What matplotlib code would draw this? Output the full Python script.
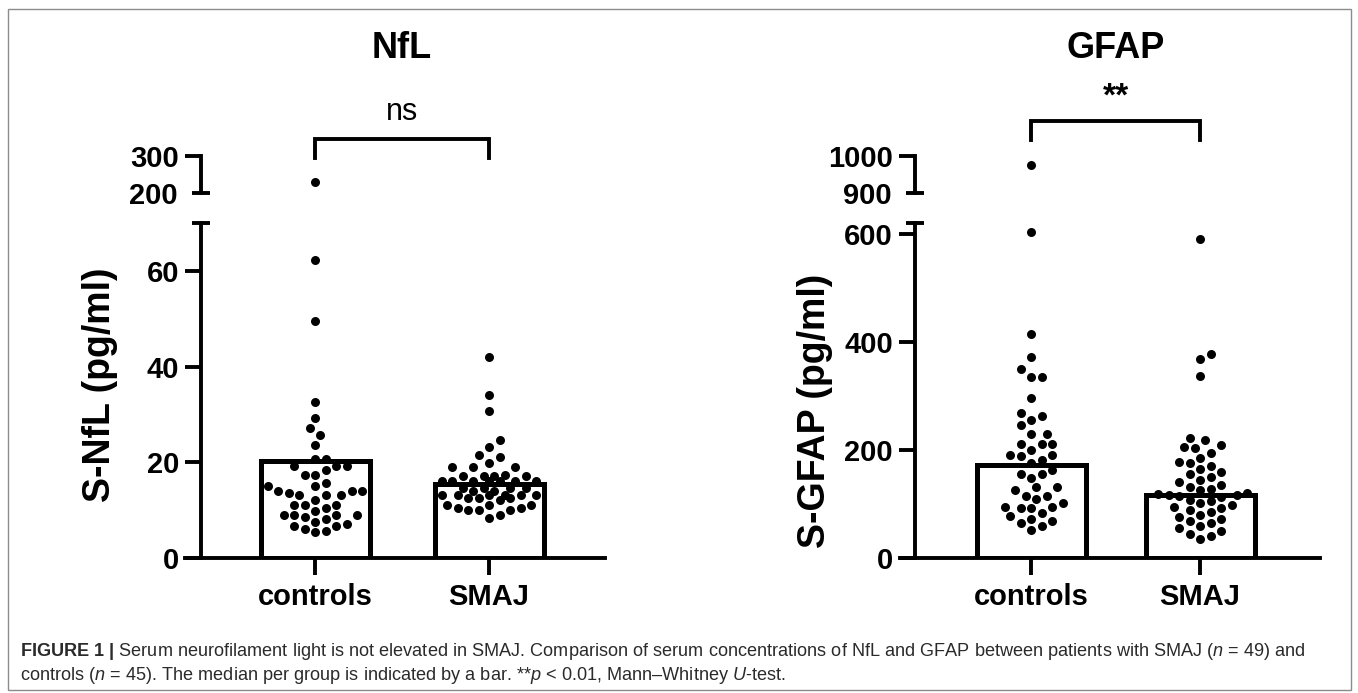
"""Recreate the serum NfL / GFAP scatter-dot figure with broken y axes."""

import matplotlib.pyplot as plt
import matplotlib.transforms as mtransforms
import numpy as np
from matplotlib.patches import Rectangle
from matplotlib.ticker import FixedLocator, NullFormatter

plt.rcParams["font.family"] = ["Liberation Sans", "DejaVu Sans"]
plt.rcParams["mathtext.fontset"] = "custom"
plt.rcParams["mathtext.rm"] = "Liberation Sans"
plt.rcParams["mathtext.it"] = "Liberation Sans:italic"
plt.rcParams["mathtext.bf"] = "Liberation Sans:bold"

GROUPS = ["controls", "SMAJ"]

NFL_CONTROLS = [
    230, 62.2, 49.6, 32.6, 29.3, 27.1, 25.7, 23.7,
    20.6, 20.6, 19.2, 19.2, 19.2, 18.3, 17.4, 17.4, 15.6, 15.0, 15.0,
    13.9, 13.9, 13.9, 13.6, 13.1, 13.1, 13.1, 12.2, 11.1, 11.1, 11.1,
    10.4, 9.8, 8.9, 8.9, 8.9, 8.9, 8.5, 8.2, 7.6, 7.1, 6.7, 6.7, 6.1,
    5.7, 5.4,
]
NFL_SMAJ = [
    42.1, 34.1, 30.7, 24.6, 23.2, 21.6, 21.2, 19.9, 19.0, 19.0, 19.0,
    17.4, 17.1, 17.1, 17.1, 17.1, 16.0, 16.0, 16.0, 16.0, 16.0, 16.0,
    16.0, 14.6, 14.6, 14.6, 14.6, 13.9, 13.9, 13.2, 13.2, 13.2, 13.2,
    13.2, 13.2, 12.5, 12.5, 12.5, 12.2, 11.1, 11.1, 11.1, 10.4, 10.4,
    10.1, 10.1, 10.1, 9.0, 8.3,
]
NFL_MEDIAN = [20.2, 15.5]

GFAP_CONTROLS = [
    977, 603, 414, 372, 349, 335, 335, 297, 269, 263, 256, 246, 230, 230,
    211, 211, 211, 200, 191, 191, 189, 181, 175, 163, 156, 156, 148, 131,
    131, 126, 115, 115, 110, 101, 95, 95, 92, 92, 83, 78, 72, 68, 65, 60,
    52,
]
GFAP_SMAJ = [
    590, 378, 368, 337, 222, 218, 210, 205, 203, 195, 185, 178, 175, 170,
    165, 160, 155, 150, 145, 140, 135, 132, 128, 125, 120, 118, 117, 116,
    115, 112, 108, 105, 102, 98, 95, 92, 88, 85, 80, 76, 72, 68, 65, 60,
    55, 50, 45, 40, 36,
]
GFAP_MEDIAN = [172, 117]

W, H = 1358, 693
PX = 0.72  # points per pixel at dpi 100
DOT_PX = 9.0
LW = 2.8


def fig_rect(x0, x1, y_top, y_bot):
    return [x0 / W, 1 - y_bot / H, (x1 - x0) / W, (y_bot - y_top) / H]


def swarm_x(ax, values, center, unit_px, gap_px=10.5, max_px=52.0):
    """Spread points sideways so dots close in y overlap as little as possible."""
    ys = ax.transData.transform(
        np.column_stack([np.full(len(values), center), values])
    )[:, 1]
    order = np.argsort(ys)
    steps = [0.0]
    k = 1
    while k * gap_px / 2 <= max_px:
        steps += [k * gap_px / 2, -k * gap_px / 2]
        k += 1
    placed = []
    offsets = np.zeros(len(values))
    for i in order:
        best, best_d = 0.0, -1.0
        for off in steps:
            d = min((np.hypot(off - px, ys[i] - py) for px, py in placed), default=1e9)
            if d >= gap_px:
                best = off
                break
            if d > best_d:
                best, best_d = off, d
        placed.append((best, ys[i]))
        offsets[i] = best
    return center + offsets / unit_px


def draw_panel(fig, cfg):
    c0, c1 = cfg["centers_px"]
    unit = c1 - c0
    xlim = ((cfg["left_px"] - c0) / unit, (cfg["right_px"] - c0) / unit)
    spine_x = (cfg["spine_px"] - c0) / unit

    low = fig.add_axes(fig_rect(cfg["left_px"], cfg["right_px"], cfg["break_px"], cfg["zero_px"]))
    up = fig.add_axes(fig_rect(cfg["left_px"], cfg["right_px"], cfg["top_px"], cfg["upper_bot_px"]))

    for ax, lim in ((low, cfg["low_lim"]), (up, cfg["up_lim"])):
        ax.set_xlim(*xlim)
        ax.set_ylim(*lim)
        ax.patch.set_alpha(0)
        for side in ("top", "right"):
            ax.spines[side].set_visible(False)
        ax.spines["left"].set_position(("data", spine_x))
        ax.spines["left"].set_linewidth(LW)
        ax.tick_params(axis="y", which="major", direction="out", length=16 * PX,
                       width=LW, pad=6 * PX, labelsize=21)
        ax.tick_params(axis="y", which="minor", direction="inout", length=18 * PX,
                       width=LW, pad=14 * PX, labelsize=21)

    up.spines["bottom"].set_visible(False)
    up.set_xticks([])
    up.yaxis.set_major_locator(FixedLocator([cfg["up_lim"][1]]))
    up.yaxis.set_minor_locator(FixedLocator([cfg["up_lim"][0]]))
    up.yaxis.set_minor_formatter(lambda v, p: f"{v:.0f}")
    for lab in up.get_yticklabels(which="both"):
        lab.set_fontweight("bold")

    low.spines["bottom"].set_linewidth(LW)
    low.set_yticks(cfg["low_ticks"])
    low.yaxis.set_minor_locator(FixedLocator([cfg["low_lim"][1]]))
    low.yaxis.set_minor_formatter(NullFormatter())
    low.set_xticks([0, 1])
    low.set_xticklabels(GROUPS, fontsize=21, fontweight="bold")
    low.tick_params(axis="x", direction="out", length=17 * PX, width=LW, pad=8 * PX)
    for lab in low.get_yticklabels():
        lab.set_fontweight("bold")

    low.bar([0, 1], cfg["median"], width=109 / unit, fill=False,
            edgecolor="black", linewidth=3.6, zorder=2)

    size = (DOT_PX * PX) ** 2
    for gi, vals in enumerate(cfg["values"]):
        vals = np.asarray(vals, dtype=float)
        lo_vals = vals[vals <= cfg["low_lim"][1]]
        hi_vals = vals[vals >= cfg["up_lim"][0]]
        if len(lo_vals):
            low.scatter(swarm_x(low, lo_vals, gi, unit, max_px=cfg["spread_px"][gi]), lo_vals,
                        s=size, color="black", zorder=3, clip_on=False, linewidths=0)
        if len(hi_vals):
            up.scatter(swarm_x(up, hi_vals, gi, unit), hi_vals, s=size,
                       color="black", zorder=3, clip_on=False, linewidths=0)

    # significance bracket
    trans = mtransforms.blended_transform_factory(low.transData, fig.transFigure)
    yb = 1 - cfg["bracket_px"] / H
    yleg = 1 - (cfg["bracket_px"] + 19) / H
    fig.add_artist(plt.Line2D([0, 0, 1, 1], [yleg, yb, yb, yleg], transform=trans,
                              color="black", linewidth=LW, solid_joinstyle="miter"))
    fig.text((c0 + c1) / 2 / W, 1 - cfg["sig_px"] / H, cfg["sig"], ha="center",
             va="center", fontsize=cfg["sig_size"], fontweight=cfg["sig_weight"])

    fig.text((c0 + c1) / 2 / W, 1 - 48 / H, cfg["title"], ha="center", va="center",
             fontsize=26, fontweight="bold")
    fig.text(cfg["ylabel_x"] / W, 1 - cfg["ylabel_y"] / H, cfg["ylabel"], rotation=90,
             ha="center", va="center", fontsize=cfg["ylabel_size"], fontweight="bold")


def main():
    fig = plt.figure(figsize=(W / 100, H / 100), dpi=100)
    fig.add_artist(Rectangle((8 / W, 1 - 690 / H), 1343 / W, 681 / H,
                             transform=fig.transFigure, fill=False,
                             edgecolor="#8c8c8c", linewidth=1.0))

    draw_panel(fig, {
        "title": "NfL", "ylabel": "S-NfL (pg/ml)", "ylabel_x": 100, "ylabel_y": 385,
        "ylabel_size": 27,
        "centers_px": (315, 489), "left_px": 185, "right_px": 605, "spine_px": 201,
        "zero_px": 558, "break_px": 223, "top_px": 156, "upper_bot_px": 193,
        "low_lim": (0, 70), "up_lim": (200, 300), "low_ticks": [0, 20, 40, 60],
        "median": NFL_MEDIAN, "values": [NFL_CONTROLS, NFL_SMAJ], "spread_px": (52, 52),
        "bracket_px": 139, "sig": "ns", "sig_px": 112, "sig_size": 22, "sig_weight": "normal",
    })
    draw_panel(fig, {
        "title": "GFAP", "ylabel": "S-GFAP (pg/ml)", "ylabel_x": 815, "ylabel_y": 411,
        "ylabel_size": 27,
        "centers_px": (1031, 1200), "left_px": 900, "right_px": 1320, "spine_px": 915,
        "zero_px": 558, "break_px": 223, "top_px": 156, "upper_bot_px": 193,
        "low_lim": (0, 620), "up_lim": (900, 1000), "low_ticks": [0, 200, 400, 600],
        "median": GFAP_MEDIAN, "values": [GFAP_CONTROLS, GFAP_SMAJ], "spread_px": (40, 52),
        "bracket_px": 121, "sig": "**", "sig_px": 97, "sig_size": 24, "sig_weight": "bold",
    })

    line1 = (r"$\bf{FIGURE\ 1\ |}$ Serum neurofilament light is not elevated in SMAJ. "
             r"Comparison of serum concentrations of NfL and GFAP between patients with "
             r"SMAJ ($\it{n}$ = 49) and")
    line2 = (r"controls ($\it{n}$ = 45). The median per group is indicated by a bar. "
             r"**$\it{p}$ < 0.01, Mann–Whitney $\it{U}$-test.")
    fig.text(20 / W, 1 - 652 / H, line1, ha="left", va="center", fontsize=13.1, color="#2b2b2b")
    fig.text(20 / W, 1 - 676 / H, line2, ha="left", va="center", fontsize=13.1, color="#2b2b2b")

    fig.savefig("out.png", dpi=100)
    plt.close(fig)


if __name__ == "__main__":
    main()
